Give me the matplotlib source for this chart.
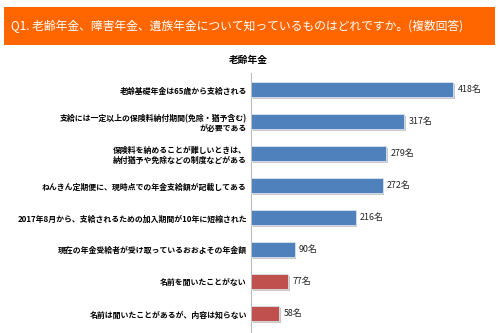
import matplotlib
matplotlib.use("Agg")
import matplotlib.pyplot as plt
import matplotlib.patheffects as pe
from matplotlib.patches import Rectangle

plt.rcParams['font.family'] = ['Noto Sans CJK JP', 'DejaVu Sans']

title = "Q1. 老齢年金、障害年金、遺族年金について知っているものはどれですか。(複数回答)"
subtitle = "老齢年金"
labels = [
    "老齢基礎年金は65歳から支給される",
    "支給には一定以上の保険料納付期間(免除・猶予含む)\nが必要である",
    "保険料を納めることが難しいときは、\n納付猶予や免除などの制度などがある",
    "ねんきん定期便に、現時点での年金支給額が記載してある",
    "2017年8月から、支給されるための加入期間が10年に短縮された",
    "現在の年金受給者が受け取っているおおよその年金額",
    "名前を聞いたことがない",
    "名前は聞いたことがあるが、内容は知らない",
]
values = [418, 317, 279, 272, 216, 90, 77, 58]
colors = ["#4F81BD"] * 6 + ["#C0504D"] * 2

fig = plt.figure(figsize=(5, 3.33), dpi=100)

# orange header band
fig.patches.append(Rectangle((0.008, 0.865), 0.982, 0.114, transform=fig.transFigure,
                             facecolor="#FF6600", edgecolor="none"))
fig.text(0.022, 0.922, title, color="white", fontsize=8.5, va="center", ha="left")
fig.text(0.497, 0.82, subtitle, fontsize=7, fontweight="bold", va="center", ha="center")

ax = fig.add_axes([0.502, 0.0, 0.484, 0.781])
pos = list(range(len(values)))
bars = ax.barh(pos, values, height=0.47, color=colors, edgecolor="#DDE3EC", linewidth=0.6)
for b in bars:
    b.set_path_effects([pe.SimplePatchShadow(offset=(1.2, -1.2), alpha=0.25), pe.Normal()])

for p, v in zip(pos, values):
    ax.text(v + 9, p, f"{v}名", fontsize=6.4, va="center", ha="left", color="#222222")

ax.set_xlim(0, 500)
ax.set_ylim(7.6, -0.53)
ax.set_yticks(pos)
ax.set_yticklabels(labels, fontsize=5.7, fontweight="bold")
ax.tick_params(axis="y", length=0, pad=3)
ax.set_xticks([])
for s in ["top", "right", "bottom"]:
    ax.spines[s].set_visible(False)
ax.spines["left"].set_color("#BBBBBB")
ax.spines["left"].set_linewidth(0.8)

fig.savefig("out.png", dpi=100)
